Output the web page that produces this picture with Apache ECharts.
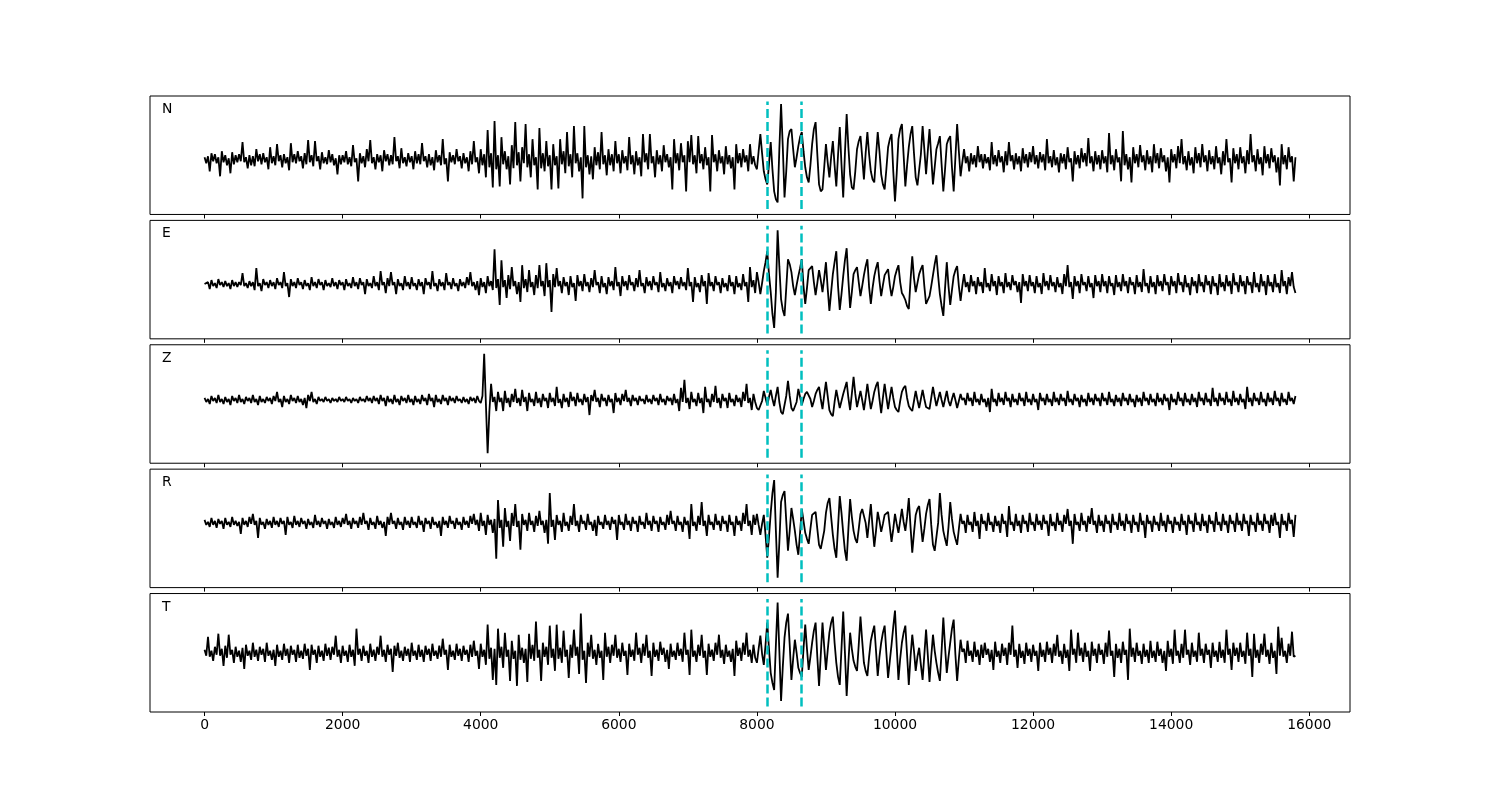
<!DOCTYPE html>
<html><head><meta charset="utf-8">
<script src="https://cdn.jsdelivr.net/npm/echarts@6/dist/echarts.min.js"></script>
<style>html,body{margin:0;padding:0;background:#fff}#chart{width:1500px;height:800px}</style>
</head><body><div id="chart"></div>
<script>
// ---- data (amplitudes, one sample every 25 units) ----
const sampleStep = 25;
const channelNames = ['N', 'E', 'Z', 'R', 'T'];
const pickTimes = [8150, 8640];
const xTicks = [0, 2000, 4000, 6000, 8000, 10000, 12000, 14000, 16000];
const xRange = [-790, 16590];
const yLimits = [[-55, 63], [-55, 64], [-63, 55], [-65, 54], [-59, 59]];

const traceN = [
 2,-4,3,-12,6,-2,5,-4,2,-17,8,-3,4,-6,1,-14,7,-5,4,-3,5,-2,17,-3,2,-9,4,-6,3,-7,10,-2,5,-5,6,-3,2,-10,12,-4,
 3,-6,15,-2,4,-8,5,-4,2,-11,16,-3,5,-4,8,-2,3,-9,6,-5,19,-3,4,-7,18,-2,3,-10,7,-4,2,-5,9,-3,5,-6,1,-15,4,-5,
 4,-3,8,-5,2,-7,14,-3,1,-22,6,-4,3,-8,10,-2,19,-4,2,-10,5,-3,4,-12,9,-2,5,-6,4,-5,22,-2,3,-9,11,-4,2,-7,6,-3,
 3,-10,8,-4,5,-5,16,-2,3,-8,5,-6,2,-11,9,-3,4,-6,20,-5,1,-22,7,-3,4,-5,10,-2,3,-9,6,-4,2,-12,8,-5,18,-3,2,-14,
 10,-6,5,-18,29,-8,6,-28,38,-10,4,-27,22,-5,8,-10,3,-25,14,-9,37,-6,7,-22,12,-4,35,-8,5,-18,20,-6,2,-30,31,-9,6,-12,18,-7,
 4,-30,15,-6,3,-29,20,-5,8,-14,27,-7,5,-18,33,-4,6,-12,2,-39,33,-8,4,-15,3,-20,12,-6,7,-10,27,-5,4,-16,10,-6,5,-12,18,-4,
 5,-14,9,-4,3,-11,22,-5,4,-15,8,-6,2,-17,25,-3,6,-10,25,-4,3,-18,9,-5,4,-12,14,-3,5,-8,2,-30,20,-4,6,-11,16,-3,4,-32,
 18,-3,24,-5,4,-14,23,-4,5,-10,12,-6,2,-32,24,-3,5,-12,9,-4,3,-15,13,-5,4,-9,2,-30,15,-4,6,-8,10,-3,4,-12,15,-5,3,-6,
 -10,8,25,6,-12,-20,-25,-5,17,-10,-32,-40,-43,10,55,12,-38,-12,20,28,30,10,-8,2,13,22,27,8,-8,-18,-23,-6,15,30,37,5,-25,-32,-30,-8,
 15,-3,-18,2,18,-6,-27,4,32,-5,-38,6,45,12,-15,-28,-30,-12,10,18,23,2,-20,6,27,5,-12,-20,-23,3,27,8,-15,-25,-30,-10,12,20,25,-12,
 -42,-14,20,30,35,4,-27,-6,12,25,33,6,-18,-26,-25,5,33,10,-15,8,30,2,-25,-8,10,16,23,-5,-32,-10,15,20,23,-8,-32,2,35,8,-17,-3,
 10,-4,3,-12,6,-5,4,-8,13,-3,5,-9,5,-4,2,-11,17,-5,4,-7,9,-3,3,-13,8,-6,17,-2,4,-10,6,-5,3,-12,11,-4,5,-8,7,-3,
 13,-5,4,-9,7,-3,5,-11,20,-4,3,-8,9,-6,2,-13,6,-4,5,-10,12,-3,1,-22,8,-5,4,-9,11,-3,6,-7,21,-4,3,-12,8,-5,4,-10,
 9,-4,3,-13,26,-5,4,-11,10,-3,2,-22,28,-6,5,-10,2,-23,12,-4,5,-8,14,-3,4,-11,9,-5,3,-13,15,-4,6,-9,11,-3,4,-12,2,-23,
 10,-3,5,-9,13,-4,20,-5,3,-11,8,-6,2,-14,12,-4,6,-8,15,-3,4,-12,9,-5,3,-10,13,-4,2,-15,8,-6,20,-3,1,-23,11,-4,5,-10,
 12,-4,3,-14,9,-5,25,-3,4,-12,10,-5,2,-16,13,-4,5,-9,11,-3,4,-13,2,-26,15,-5,4,-10,12,-3,3,-22,2
];
const traceE = [
 0,-2,2,-5,4,-2,1,-4,5,-1,2,-3,3,-2,1,-5,4,-2,2,-3,2,-1,11,-2,1,-4,3,-2,2,-6,16,-2,1,-7,5,-1,2,-4,4,-2,
 2,-5,6,-1,2,-4,12,-2,1,-13,5,-2,2,-4,6,-1,2,-5,4,-2,1,-6,7,-2,2,-4,5,-1,2,-6,4,-2,1,-3,6,-2,2,-5,4,-1,
 2,-6,5,-2,1,-4,7,-2,2,-5,6,-1,2,-10,5,-2,1,-4,8,-2,2,-6,13,-1,2,-9,6,-2,12,-1,2,-10,5,-2,1,-6,8,-2,2,-5,
 7,-2,1,-6,5,-2,2,-10,6,-1,2,-5,13,-2,1,-7,5,-2,2,-6,11,-1,2,-5,6,-2,1,-7,5,-2,2,-4,7,-1,12,-2,2,-6,3,-11,
 6,-3,2,-9,8,-2,3,-6,35,-4,5,-21,24,-3,4,-14,9,-5,17,-2,3,-10,2,-18,19,-4,5,-8,14,-3,2,-11,9,-4,19,-2,3,-12,21,-3,
 4,-28,10,-3,16,-2,3,-9,7,-2,2,-11,8,-3,1,-17,9,-2,3,-7,10,-2,2,-8,6,-3,14,-1,2,-9,8,-3,1,-10,7,-2,3,-6,17,-2,
 2,-12,8,-2,3,-6,9,-1,2,-7,6,-3,14,-2,1,-9,7,-2,3,-6,8,-1,2,-8,12,-3,1,-7,6,-2,2,-9,8,-1,3,-5,7,-2,2,-6,
 16,-2,2,-18,7,-3,1,-8,9,-2,3,-20,11,-2,2,-7,8,-1,2,-9,6,-3,1,-7,9,-2,2,-10,8,-3,1,-6,10,-2,2,-18,17,-3,4,-9,
 12,2,-10,1,13,22,33,10,-8,-30,-44,-8,54,18,-15,-26,-32,-4,25,20,12,-2,-11,-1,8,16,25,-2,-20,-4,14,16,18,2,-11,1,14,4,-8,6,
 22,-4,-27,-8,10,22,33,-2,-26,-10,8,24,36,4,-24,-8,10,14,17,2,-12,-2,9,18,25,-3,-20,-4,8,16,22,3,-12,-1,9,12,15,-1,-12,-3,
 8,14,19,2,-9,-12,-16,-22,-25,4,28,6,-8,1,10,15,19,-2,-20,-16,-12,-2,9,20,29,8,-10,-22,-32,-4,22,-2,-21,-6,8,14,18,-2,-17,-2,
 10,-3,2,-8,9,-2,3,-10,7,-2,2,-9,16,-3,1,-7,10,-2,3,-11,8,-2,2,-9,11,-3,2,-6,9,-1,3,-8,2,-19,10,-2,3,-7,9,-2,
 2,-9,8,-3,1,-10,11,-2,3,-6,9,-2,2,-8,7,-3,1,-10,10,-2,19,-3,2,-15,8,-2,3,-9,10,-1,2,-7,8,-3,1,-14,9,-2,3,-8,
 10,-2,3,-9,8,-2,1,-11,9,-3,2,-7,10,-2,3,-9,7,-1,2,-10,9,-3,2,-8,15,-2,1,-9,8,-3,2,-10,9,-2,3,-7,10,-1,2,-11,
 8,-2,3,-9,11,-1,2,-8,9,-3,1,-11,7,-2,3,-9,10,-2,2,-8,9,-1,3,-10,8,-2,1,-11,10,-3,2,-7,9,-2,3,-10,11,-1,2,-8,
 9,-2,3,-10,8,-1,2,-9,12,-3,1,-8,10,-2,3,-11,9,-2,2,-8,10,-3,1,-9,14,-2,3,-10,7,-2,12,-3,-9
];
const traceZ = [
 2,-2,1,-4,4,-1,2,-3,5,-2,1,-4,3,-2,1,-5,4,-1,2,-3,5,-2,1,-4,3,-1,2,-3,5,-2,1,-5,4,-2,1,-3,3,-1,2,-4,
 4,-1,8,-2,1,-7,4,-2,1,-4,5,-1,2,-3,4,-2,1,-5,2,-8,5,-1,8,-2,1,-4,3,-1,1,-2,3,-1,1,-3,2,-1,1,-2,3,-1,
 1,-2,3,-1,1,-3,2,-1,1,-3,3,-1,1,-2,4,-1,2,-3,4,-1,2,-4,5,-1,2,-6,4,-2,1,-4,5,-2,1,-5,4,-1,2,-3,5,-2,
 1,-5,4,-2,1,-4,5,-1,2,-5,6,-1,2,-7,5,-2,1,-4,5,-1,2,-5,4,-1,2,-3,4,-1,1,-3,3,-2,1,-4,3,-1,2,-3,4,-1,
 -3,4,46,-4,-53,-12,16,-2,3,-11,8,-2,2,-11,9,-3,2,-7,6,-2,11,-3,2,-6,10,-2,3,-11,7,-2,1,-6,8,-3,2,-7,6,-1,2,-8,
 7,-2,2,-6,13,-3,1,-8,6,-2,2,-7,8,-1,3,-6,7,-2,1,-5,6,-2,3,-15,5,-1,10,-2,2,-7,6,-1,2,-6,5,-2,1,-13,7,-2,
 2,-5,6,-1,10,-2,2,-6,5,-1,2,-5,4,-1,1,-4,5,-2,1,-4,5,-1,2,-5,6,-2,1,-5,4,-1,2,-5,6,-3,1,-11,12,-2,20,-3,
 2,-9,8,-2,1,-6,7,-3,2,-13,13,-2,1,-7,6,-2,14,-3,2,-8,6,-1,2,-8,7,-2,1,-6,5,-2,2,-7,8,-1,16,-3,2,-10,6,-2,
 -8,-10,-11,-1,9,2,-5,3,10,1,-6,4,13,-2,-12,-14,-13,4,19,4,-8,-11,-12,-2,11,3,-5,1,6,8,9,1,-7,-1,6,10,13,1,-9,5,
 18,4,-10,-14,-16,-2,10,1,-8,-1,6,12,18,2,-10,6,23,6,-7,1,9,0,-10,2,16,3,-9,-1,8,14,18,1,-13,2,16,3,-9,2,13,2,
 -7,-10,-12,-1,8,12,14,2,-6,-9,-11,-1,9,0,-8,1,10,1,-7,-8,-9,2,13,3,-6,1,8,0,-7,1,9,-1,-6,1,7,0,-8,-1,6,0,
 2,-5,7,-1,2,-6,8,-2,1,-5,6,-2,1,-7,2,-12,11,-2,1,-6,7,-2,2,-5,8,-1,2,-7,6,-2,1,-5,7,-1,2,-6,8,-2,1,-5,
 6,-2,1,-10,7,-1,2,-5,6,-2,1,-6,8,-2,2,-5,6,-1,2,-6,9,-2,1,-5,6,-1,2,-7,5,-2,1,-6,7,-2,2,-5,6,-1,2,-6,
 7,-1,2,-5,8,-2,1,-6,5,-2,2,-6,7,-1,2,-5,6,-2,1,-7,5,-2,2,-6,8,-1,2,-5,6,-2,1,-6,7,-2,2,-5,6,-1,2,-10,
 6,-2,1,-5,8,-1,2,-6,7,-2,1,-5,6,-2,2,-7,8,-1,2,-5,7,-2,1,-6,12,-2,2,-6,7,-1,2,-5,8,-2,1,-6,9,-2,2,-5,
 6,-2,1,-9,13,-2,2,-6,7,-1,2,-5,8,-2,1,-6,7,-2,2,-5,9,-1,2,-6,7,-2,1,-5,8,-1,2,-4,4
];
const traceR = [
 3,-2,1,-4,5,-2,2,-5,4,-1,2,-6,5,-2,1,-4,6,-2,2,-3,1,-11,5,-2,2,-4,6,-1,9,-2,2,-15,5,-2,1,-6,4,-2,2,-5,
 6,-2,2,-4,5,-1,2,-12,6,-2,1,-5,7,-2,2,-4,5,-1,2,-6,4,-2,1,-5,8,-2,2,-4,5,-1,2,-6,4,-2,1,-5,6,-2,2,-4,
 5,-1,9,-2,2,-6,5,-1,2,-5,6,-2,10,-1,2,-7,5,-2,1,-6,7,-2,2,-5,1,-13,6,-2,10,-1,2,-6,5,-2,1,-7,6,-2,2,-5,
 6,-2,1,-5,7,-2,2,-9,5,-1,2,-6,6,-2,1,-5,2,-13,6,-2,2,-5,7,-1,2,-6,5,-2,1,-7,6,-2,2,-5,7,-1,9,-2,3,-8,
 10,-3,2,-12,8,-2,3,-10,4,-36,23,-5,3,-24,15,-4,2,-18,10,-3,19,-4,2,-27,9,-2,3,-8,10,-2,2,-9,7,-3,12,-2,2,-10,3,-21,
 30,-4,3,-17,8,-2,2,-9,10,-3,1,-8,7,-2,19,-3,2,-9,8,-1,2,-7,9,-2,1,-8,3,-13,7,-2,1,-6,8,-2,2,-7,6,-1,3,-17,
 8,-2,1,-7,9,-2,2,-8,6,-1,2,-9,7,-2,1,-6,10,-2,2,-8,7,-1,2,-9,6,-2,1,-7,8,-2,12,-1,2,-8,7,-2,1,-9,6,-2,
 2,-16,19,-3,1,-8,7,-2,21,-3,2,-13,8,-2,1,-7,9,-2,2,-8,7,-1,2,-9,8,-2,1,-13,7,-2,2,-8,10,-1,19,-3,2,-12,8,-2,
 9,-2,-12,-1,8,-12,-35,-14,10,30,43,-8,-55,-20,21,28,32,2,-28,-8,15,4,-8,-22,-32,-10,14,2,-10,-16,-21,-6,8,10,11,-6,-22,-26,-24,-8,
 10,20,25,6,-12,-26,-35,-4,27,10,-10,-28,-38,-6,24,6,-8,-16,-20,-6,9,14,16,0,-15,2,19,-4,-24,-8,11,2,-9,-1,8,10,11,-4,-19,-6,
 9,-1,-10,2,14,1,-8,6,25,-4,-30,-10,8,14,17,-2,-19,-6,9,18,24,-2,-22,-28,-30,0,30,8,-8,-16,-23,-4,21,4,-9,-16,-22,-6,9,-1,
 2,-10,8,-2,1,-9,11,-3,2,-16,9,-1,2,-8,10,-2,1,-9,7,-3,2,-10,9,-1,2,-14,17,-2,1,-8,9,-3,2,-10,8,-1,2,-9,10,-2,
 1,-8,9,-2,2,-7,8,-1,2,-13,9,-3,1,-8,10,-2,2,-9,8,-1,14,-3,2,-21,9,-2,1,-8,10,-2,2,-9,7,-1,15,-2,2,-10,8,-3,
 2,-9,8,-1,2,-10,9,-2,1,-7,10,-3,2,-8,9,-1,2,-10,8,-2,1,-9,10,-2,2,-15,8,-1,2,-9,7,-2,1,-8,10,-3,2,-9,8,-1,
 2,-10,6,-2,1,-8,9,-2,2,-12,8,-1,2,-9,10,-2,1,-8,9,-3,2,-10,8,-1,2,-9,11,-2,1,-8,9,-2,2,-10,8,-1,2,-9,10,-2,
 2,-8,9,-1,2,-13,8,-2,1,-9,10,-2,2,-8,9,-1,2,-10,8,-3,10,-2,1,-15,9,-2,2,-8,10,-1,3,-14,8
];
const traceT = [
 3,-3,16,-4,2,-8,6,-2,19,-3,4,-13,7,-5,18,-2,3,-10,6,-4,2,-9,5,-16,8,-3,2,-7,10,-4,3,-8,6,-2,4,-9,10,-3,2,-7,
 3,-13,8,-4,2,-7,9,-3,4,-10,7,-2,3,-9,8,-5,2,-6,9,-3,4,-17,8,-2,3,-10,7,-4,2,-8,9,-3,5,-7,6,-2,17,-4,3,-10,
 7,-3,2,-9,8,-4,3,-13,24,-2,4,-8,7,-3,2,-10,9,-4,3,-8,6,-2,17,-4,3,-9,8,-2,4,-19,7,-3,10,-5,2,-8,6,-3,4,-9,
 10,-3,2,-7,8,-4,3,-9,7,-2,4,-8,9,-3,2,-6,7,-4,14,-2,3,-17,8,-4,2,-7,9,-3,4,-8,7,-2,3,-9,8,-4,12,-3,2,-16,
 9,-4,3,-12,28,-6,5,-27,4,-32,24,-5,6,-15,20,-4,3,-28,12,-6,2,-33,18,-7,5,-10,4,-29,19,-6,8,-8,31,-5,3,-28,10,-4,6,-12,
 27,-5,4,-18,28,-6,5,-10,22,-4,3,-25,8,-5,23,-3,6,-21,39,-7,2,-30,10,-4,18,-6,3,-12,9,-5,2,-27,20,-4,6,-10,8,-3,18,-5,
 4,-9,10,-3,2,-22,9,-4,3,-8,20,-2,5,-10,9,-3,18,-5,2,-23,10,-4,3,-8,11,-2,5,-9,3,-16,9,-4,2,-7,10,-3,4,-9,20,-2,
 3,-22,23,-4,2,-9,8,-3,18,-5,2,-22,9,-4,3,-8,10,-2,18,-5,3,-11,8,-4,2,-9,4,-23,12,-3,5,-8,10,-2,20,-4,3,-10,8,-5,
 -10,4,17,-1,-12,8,30,4,-20,-30,-37,8,50,2,-48,-14,15,30,39,8,-27,-6,13,0,-15,-20,-24,4,28,4,-17,-4,10,22,30,-4,-33,-2,30,6,
 -17,2,20,30,36,10,-10,-24,-32,4,41,0,-43,-10,20,4,-8,-14,-18,8,36,12,-10,-18,-23,-4,12,20,27,2,-23,-4,10,20,27,0,-25,-8,8,26,
 42,6,-27,-6,10,20,27,-2,-32,-4,18,2,-18,-4,5,-12,-27,-2,23,-2,-29,-4,18,2,-10,-20,-28,2,35,6,-20,-4,10,24,33,-2,-28,-6,13,1,
 4,-10,12,-3,2,-9,11,-4,3,-12,8,-5,10,-2,4,-9,3,-17,11,-4,2,-10,9,-3,5,-12,10,-2,27,-4,3,-15,9,-5,2,-11,10,-3,4,-9,
 8,-3,2,-18,10,-4,3,-9,11,-2,5,-10,9,-3,18,-4,2,-11,9,-5,3,-18,23,-2,4,-10,20,-3,5,-9,10,-4,2,-18,11,-3,4,-10,9,-2,
 3,-11,10,-4,22,-3,2,-24,9,-5,4,-10,11,-2,3,-27,24,-4,5,-9,10,-3,2,-11,9,-4,3,-10,12,-5,2,-9,11,-3,4,-10,2,-18,12,-4,
 4,-11,23,-3,2,-10,9,-5,23,-2,3,-12,10,-4,2,-9,20,-3,4,-10,9,-2,3,-15,10,-4,2,-9,11,-5,3,-10,23,-2,4,-17,10,-3,5,-9,
 10,-4,2,-11,20,-3,4,-24,19,-5,3,-10,9,-2,19,-4,3,-11,10,-5,2,-21,26,-3,15,-4,2,-10,9,-3,21,-4,-3
];
const traces = [traceN, traceE, traceZ, traceR, traceT];

// ---- layout ----
const panelTops = [96, 220.38, 344.77, 469.15, 593.54];
const panelHeight = 118.46;
const FONT = 'DejaVu Sans';

const grids = [], xAxes = [], yAxes = [], series = [], graphics = [];
traces.forEach((tr, i) => {
  grids.push({left: 150, width: 1200, top: panelTops[i], height: panelHeight,
    show: true, borderColor: '#000', borderWidth: 1, backgroundColor: 'transparent', containLabel: false});
  const last = i === traces.length - 1;
  xAxes.push({type: 'value', gridIndex: i, min: xRange[0], max: xRange[1],
    axisLine: {show: false, onZero: false},
    axisTick: {show: true, inside: false, length: 4, customValues: xTicks, lineStyle: {color: '#000', width: 1}},
    axisLabel: {show: last, customValues: xTicks, margin: 6, color: '#000', fontSize: 13.9, fontFamily: FONT,
      formatter: v => String(v)},
    splitLine: {show: false}});
  const [lo, hi] = yLimits[i];
  yAxes.push({type: 'value', gridIndex: i, min: lo, max: hi, show: false, splitLine: {show: false}});
  const pad = (hi - lo) * 0.05 / 1.1;
  series.push({type: 'line', xAxisIndex: i, yAxisIndex: i, showSymbol: false, symbol: 'none',
    data: tr.map((v, k) => [k * sampleStep, v]), lineStyle: {color: '#000', width: 1.8},
    animation: false, silent: true, z: 2,
    markLine: {silent: true, symbol: ['none', 'none'], animation: false, label: {show: false},
      lineStyle: {color: '#00bfbf', width: 2.5, type: [9, 4]},
      data: pickTimes.map(t => [{coord: [t, lo + pad]}, {coord: [t, hi - pad]}])}});
  graphics.push({type: 'text', left: 162, top: panelTops[i] + 6.5,
    style: {text: channelNames[i], fill: '#000', font: '13.9px "DejaVu Sans"'}});
});

const chart = echarts.init(document.getElementById('chart'), null, {renderer: 'canvas'});
chart.setOption({animation: false, backgroundColor: '#fff',
  grid: grids, xAxis: xAxes, yAxis: yAxes, series: series, graphic: graphics});
</script></body></html>
